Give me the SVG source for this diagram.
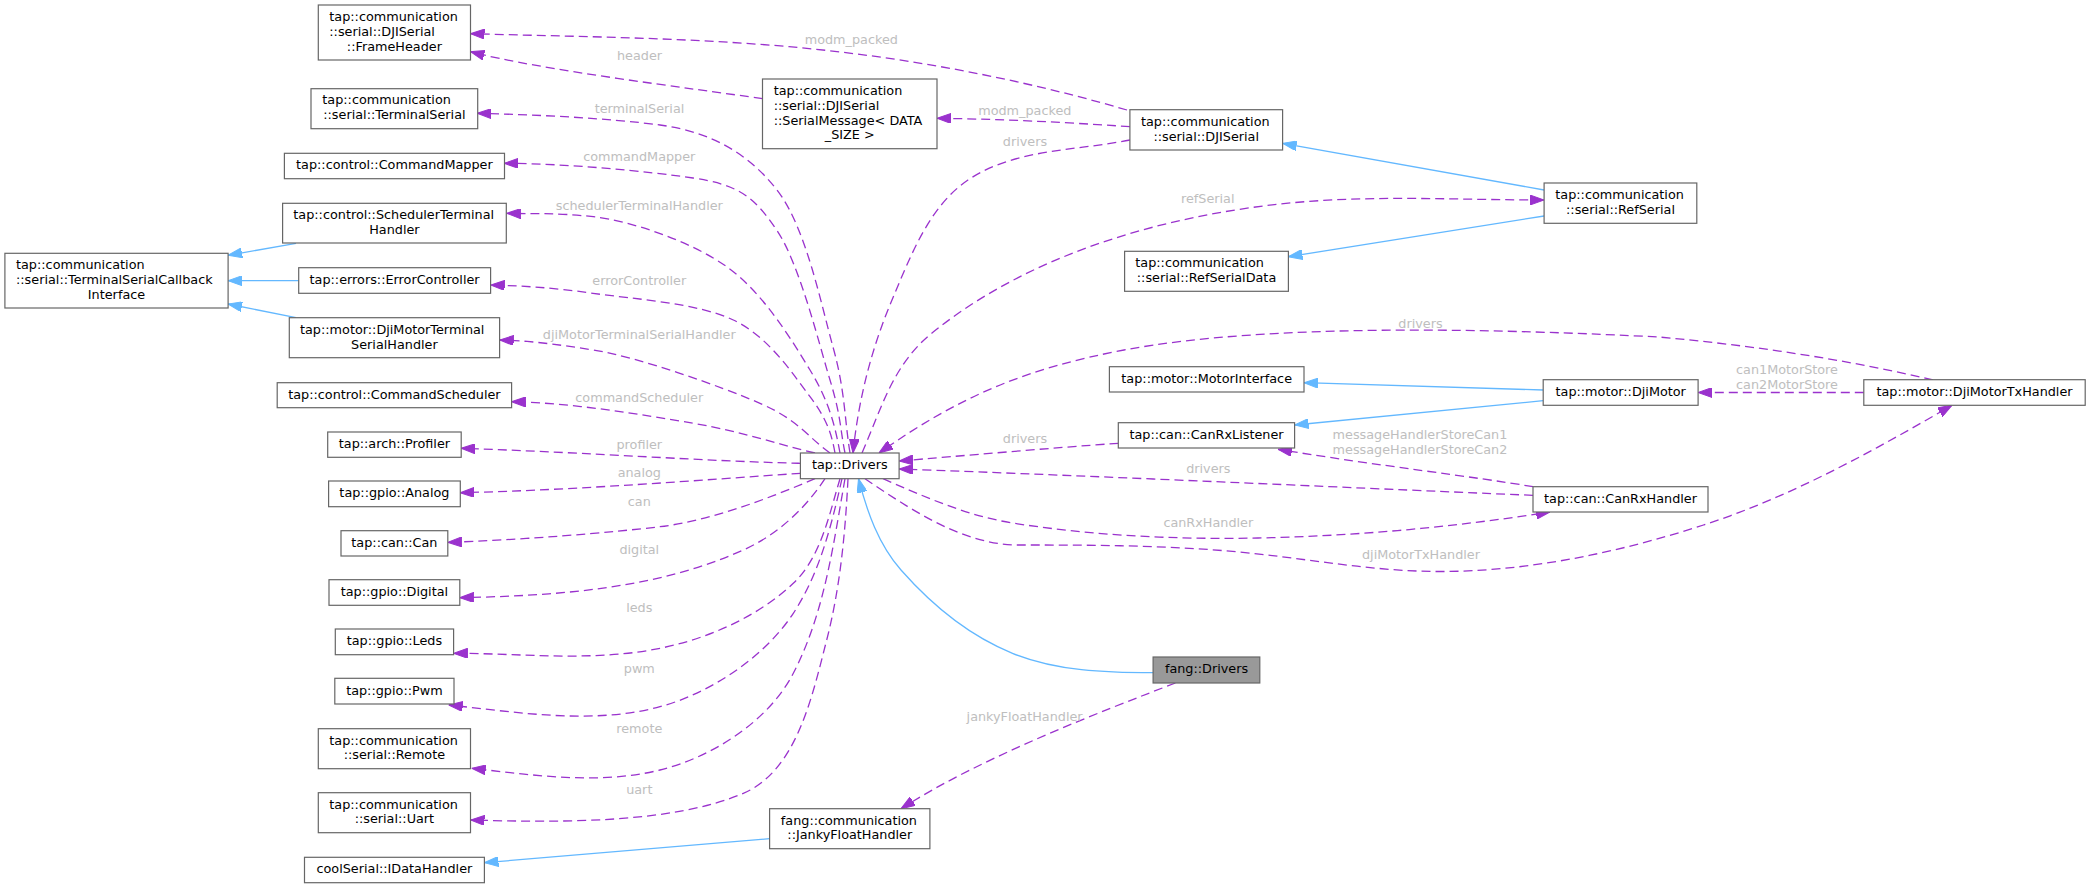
<svg xmlns="http://www.w3.org/2000/svg" width="2091" height="888" viewBox="0 0 2091 888">
<defs>
<style>
.nd rect{fill:#ffffff;stroke:#666666;stroke-width:1.2}
.nd text{font-family:"DejaVu Sans","Liberation Sans",sans-serif;font-size:12.8px;fill:#000000}
.nd .c{text-anchor:middle}
.e{fill:none;stroke:#9a32cd;stroke-width:1.3;stroke-dasharray:9,5;marker-end:url(#ap)}
.i{fill:none;stroke:#63b8ff;stroke-width:1.3;marker-end:url(#ab)}
.l{font-family:"DejaVu Sans","Liberation Sans",sans-serif;font-size:12.8px;fill:#bebebe;text-anchor:middle}
</style>
<marker id="ap" viewBox="0 0 14 10" refX="14" refY="5" markerWidth="14" markerHeight="10" markerUnits="userSpaceOnUse" orient="auto"><path d="M0,0 L14,5 L0,10 z" fill="#9a32cd" stroke="#9a32cd" stroke-width="1"/></marker>
<marker id="ab" viewBox="0 0 14 10" refX="14" refY="5" markerWidth="14" markerHeight="10" markerUnits="userSpaceOnUse" orient="auto"><path d="M0,0 L14,5 L0,10 z" fill="#63b8ff" stroke="#63b8ff" stroke-width="1"/></marker>
</defs>
<rect x="0" y="0" width="2091" height="888" fill="#ffffff"/>
<g id="connectors">
<path class="e" d="M1127,110 C1017.6,78 902.5,56.7 789,46.7 C683.4,37.4 577,36.7 470.5,33.7"/>
<path class="e" d="M762.5,98.7 C690,88 540,70 470.5,51.7"/>
<path class="e" d="M1130,126.7 C1060,122 1000,119 937,118.3"/>
<path class="e" d="M1130,140 C1075,151 1014.5,148.6 968,180 C929,206.3 910.3,256.8 892,300 C871.3,348.8 858.3,400.3 853,453"/>
<path class="e" d="M1933,380 C1844,359 1750.6,345.3 1659,337 C1509,329.5 1274,322 1124,350 C1026,368.5 960,396 879,453"/>
<path class="e" d="M862,453 C882,407 893,364.5 932,333 C1028,255.5 1158,217.3 1280,204 C1367.5,194.5 1456,200 1544,200"/>
<path class="e" d="M850,453 C844.3,417.7 845.2,390.8 833,347 C820.8,303.2 805.8,227 777,190 C748.2,153 710,131.7 660,125 C610,118.3 538,114.7 477.3,113.3"/>
<path class="e" d="M845,453 C840,428.7 841.3,417.2 830,380 C818.7,342.8 799.5,263.7 776.7,230 C753.9,196.3 738.3,184.7 693,178 C647.7,171.3 567.3,163.5 504.3,163.3"/>
<path class="e" d="M840,453 C835,425.3 828.9,401.1 810,370 C791.1,338.9 762.8,292.3 726.7,266.7 C690.6,241.1 630,220.7 593.3,216.7 C556.6,212.7 535.7,214 506.7,213.3"/>
<path class="e" d="M835,453 C831.7,434.3 826.9,418.9 810,396.7 C793.1,374.5 769.5,337.2 733.3,320 C697.1,302.8 633.6,299.1 593,293.3 C552.4,287.5 524.3,286 490.6,285"/>
<path class="e" d="M830,453 C806.7,436.4 799.4,420.5 760,403.3 C720.6,386.1 636.7,356.7 593.3,350 C550,343.3 530.6,341 499.6,340"/>
<path class="e" d="M815,453 C775,443.7 743.9,431.9 693.3,423.3 C642.7,414.7 571.7,402.7 511.6,401.7"/>
<path class="e" d="M800.4,463.3 C700,461 600,453 461.2,448.3"/>
<path class="e" d="M800.4,473.3 C700,480 580,490 460.3,492.7"/>
<path class="e" d="M815,478.7 C764.4,500.2 709.3,520.8 660,526.7 C610.7,532.6 517.8,540.3 447.8,542.3"/>
<path class="e" d="M825,478.7 C804.7,509.4 777,534.8 743.3,550 C655.9,589.4 555.8,595.7 459.8,597.7"/>
<path class="e" d="M840,478.7 C829,515.2 821,557.1 793.3,583.3 C757.5,617.1 708,638.5 660,648.3 C592.4,662.1 522.6,653.3 453.6,653.3"/>
<path class="e" d="M842,478.7 C831.4,525.7 819.7,573 793.3,613.3 C764.7,657 710.2,693.2 660,706.7 C592.4,724.9 518.4,712.4 448.7,705"/>
<path class="e" d="M845,478.7 C833.1,545.7 824.6,612.8 793.3,673.3 C768.5,721.3 712.4,757 660,770 C598.9,785.1 534.3,775.2 471.7,768.3"/>
<path class="e" d="M848,478.7 C845.3,532.7 840.2,587.6 826.7,640 C812.2,696.3 796.7,770.7 743.3,793.3 C673.3,823.3 562.7,822.7 470.5,820"/>
<path class="e" d="M1118.3,443.3 C1050,448 960,456 899.1,461"/>
<path class="e" d="M1533,495.3 C1400,490 1100,476 899.1,469"/>
<path class="e" d="M1533,486.7 C1470,476 1380,466 1278,449.3"/>
<path class="e" d="M883,478.7 C925.3,497.1 967.1,515.8 1012.5,523 C1093.5,535.8 1176,539.6 1258,538 C1356,536 1453.2,527.2 1550,512"/>
<path class="e" d="M865,478.7 C909.8,508.9 958.8,542 1012.5,545 C1086.5,545 1162,545 1235.7,551.7 C1304.4,557.9 1371,571.5 1440,571.5 C1529,571.5 1618.9,552.4 1703.5,525 C1791,496.7 1872.4,451.3 1952,405.3"/>
<path class="e" d="M1863.8,392.5 L1698.1,392.5"/>
<path class="e" d="M1175.4,683 C1100,712 980,758 901,808.7"/>
<path class="i" d="M296,243.3 L228.1,255.3"/>
<path class="i" d="M298.7,280.7 L228.1,280.7"/>
<path class="i" d="M296,317.7 L228.1,304"/>
<path class="i" d="M1544.1,190 L1282.6,143.3"/>
<path class="i" d="M1544.1,216 L1288.4,256.7"/>
<path class="i" d="M1543.2,390 L1304,382.7"/>
<path class="i" d="M1543.2,400.7 L1294.6,425"/>
<path class="i" d="M1153.1,672.7 C1106,672.7 1056,671 1012.5,653.3 C969.9,636 931.4,604.5 901,570 C878.6,544.5 867,511.7 858.5,478.7"/>
<path class="i" d="M769.6,838.7 L484.4,862.7"/>
<text class="l" x="851.3" y="44.3">modm_packed</text>
<text class="l" x="639.5" y="60.3">header</text>
<text class="l" x="1024.8" y="114.6">modm_packed</text>
<text class="l" x="1025" y="146">drivers</text>
<text class="l" x="639.5" y="112.6">terminalSerial</text>
<text class="l" x="639.3" y="161">commandMapper</text>
<text class="l" x="639.3" y="210">schedulerTerminalHandler</text>
<text class="l" x="639.3" y="284.6">errorController</text>
<text class="l" x="639.3" y="339">djiMotorTerminalSerialHandler</text>
<text class="l" x="639.3" y="402">commandScheduler</text>
<text class="l" x="639.3" y="448.6">profiler</text>
<text class="l" x="639.3" y="477">analog</text>
<text class="l" x="639.3" y="506.3">can</text>
<text class="l" x="639.3" y="553.6">digital</text>
<text class="l" x="639.3" y="612.3">leds</text>
<text class="l" x="639.3" y="673.3">pwm</text>
<text class="l" x="639.3" y="733">remote</text>
<text class="l" x="639.3" y="794">uart</text>
<text class="l" x="1207.7" y="203">refSerial</text>
<text class="l" x="1420.5" y="328.3">drivers</text>
<text class="l" x="1787" y="374">can1MotorStore</text>
<text class="l" x="1787" y="389">can2MotorStore</text>
<text class="l" x="1025" y="443">drivers</text>
<text class="l" x="1420" y="439">messageHandlerStoreCan1</text>
<text class="l" x="1420" y="454">messageHandlerStoreCan2</text>
<text class="l" x="1208.3" y="472.6">drivers</text>
<text class="l" x="1208.3" y="527">canRxHandler</text>
<text class="l" x="1421" y="559.3">djiMotorTxHandler</text>
<text class="l" x="1024.6" y="720.6">jankyFloatHandler</text>
</g>
<g id="node-frameheader" class="nd"><rect x="318.3" y="5" width="152.2" height="55"/><text x="329.3" y="21">tap::communication</text><text x="329.3" y="36">::serial::DJISerial</text><text class="c" x="394.4" y="51">::FrameHeader</text></g>
<g id="node-terminalserial" class="nd"><rect x="311" y="88.7" width="166.7" height="40"/><text x="322.3" y="104.3">tap::communication</text><text class="c" x="394.4" y="118.6">::serial::TerminalSerial</text></g>
<g id="node-commandmapper" class="nd"><rect x="284.4" y="153.3" width="220.1" height="25.4"/><text class="c" x="394.4" y="169">tap::control::CommandMapper</text></g>
<g id="node-schedulerterminalhandler" class="nd"><rect x="282.6" y="203.3" width="223.7" height="39.7"/><text x="293.3" y="218.6">tap::control::SchedulerTerminal</text><text class="c" x="394.4" y="233.6">Handler</text></g>
<g id="node-callbackinterface" class="nd"><rect x="4.9" y="253.3" width="223.2" height="54.7"/><text x="16" y="269.3">tap::communication</text><text x="16" y="283.6">::serial::TerminalSerialCallback</text><text class="c" x="116.5" y="298.6">Interface</text></g>
<g id="node-errorcontroller" class="nd"><rect x="298.7" y="267.7" width="191.9" height="25.6"/><text class="c" x="394.6" y="283.6">tap::errors::ErrorController</text></g>
<g id="node-djimotorterminal" class="nd"><rect x="289.3" y="317.7" width="210.3" height="40"/><text x="300" y="333.6">tap::motor::DjiMotorTerminal</text><text class="c" x="394.4" y="348.6">SerialHandler</text></g>
<g id="node-commandscheduler" class="nd"><rect x="277.2" y="382.7" width="234.4" height="25"/><text class="c" x="394.4" y="398.6">tap::control::CommandScheduler</text></g>
<g id="node-profiler" class="nd"><rect x="327.7" y="432" width="133.5" height="25.3"/><text class="c" x="394.4" y="447.6">tap::arch::Profiler</text></g>
<g id="node-analog" class="nd"><rect x="328.6" y="481" width="131.7" height="25.7"/><text class="c" x="394.4" y="497">tap::gpio::Analog</text></g>
<g id="node-can" class="nd"><rect x="341" y="530.7" width="106.8" height="25.3"/><text class="c" x="394.4" y="546.6">tap::can::Can</text></g>
<g id="node-digital" class="nd"><rect x="329" y="579.7" width="130.8" height="25.6"/><text class="c" x="394.4" y="596">tap::gpio::Digital</text></g>
<g id="node-leds" class="nd"><rect x="335.3" y="629" width="118.3" height="25.7"/><text class="c" x="394.4" y="645">tap::gpio::Leds</text></g>
<g id="node-pwm" class="nd"><rect x="334.8" y="678.3" width="119.2" height="25.7"/><text class="c" x="394.4" y="694.6">tap::gpio::Pwm</text></g>
<g id="node-remote" class="nd"><rect x="318.3" y="728.7" width="152.2" height="40"/><text x="329.3" y="744.6">tap::communication</text><text class="c" x="394.4" y="759">::serial::Remote</text></g>
<g id="node-uart" class="nd"><rect x="318.3" y="792.7" width="152.2" height="40"/><text x="329.3" y="808.6">tap::communication</text><text class="c" x="394.4" y="823">::serial::Uart</text></g>
<g id="node-idatahandler" class="nd"><rect x="304.5" y="857.3" width="179.9" height="25.4"/><text class="c" x="394.4" y="873">coolSerial::IDataHandler</text></g>
<g id="node-serialmessage" class="nd"><rect x="762.5" y="79" width="174.5" height="69.7"/><text x="773.7" y="95">tap::communication</text><text x="773.7" y="109.6">::serial::DJISerial</text><text x="773.7" y="124.6">::SerialMessage&lt; DATA</text><text class="c" x="849.8" y="139.3">_SIZE &gt;</text></g>
<g id="node-djiserial" class="nd"><rect x="1129.9" y="109.7" width="152.7" height="40.3"/><text x="1141" y="126">tap::communication</text><text class="c" x="1206.2" y="140.6">::serial::DJISerial</text></g>
<g id="node-refserialdata" class="nd"><rect x="1124.6" y="251.3" width="163.8" height="40"/><text x="1135.3" y="267.3">tap::communication</text><text class="c" x="1206.5" y="282">::serial::RefSerialData</text></g>
<g id="node-motorinterface" class="nd"><rect x="1109.4" y="366.7" width="194.6" height="25.3"/><text class="c" x="1206.7" y="382.6">tap::motor::MotorInterface</text></g>
<g id="node-canrxlistener" class="nd"><rect x="1118.3" y="422.7" width="176.3" height="25.3"/><text class="c" x="1206.5" y="438.6">tap::can::CanRxListener</text></g>
<g id="node-tapdrivers" class="nd"><rect x="800.4" y="453" width="98.7" height="25.7"/><text class="c" x="849.8" y="469">tap::Drivers</text></g>
<g id="node-fangdrivers" class="nd"><rect x="1153.1" y="657" width="106.7" height="26" style="fill:#999999"/><text class="c" x="1206.5" y="673">fang::Drivers</text></g>
<g id="node-jankyfloathandler" class="nd"><rect x="769.6" y="808.7" width="160.3" height="40"/><text x="780.8" y="824.6">fang::communication</text><text class="c" x="849.8" y="839">::JankyFloatHandler</text></g>
<g id="node-refserial" class="nd"><rect x="1544.1" y="183" width="152.7" height="40.3"/><text x="1555.3" y="199">tap::communication</text><text class="c" x="1620.5" y="214">::serial::RefSerial</text></g>
<g id="node-djimotor" class="nd"><rect x="1543.2" y="379.7" width="154.9" height="25.6"/><text class="c" x="1620.7" y="396">tap::motor::DjiMotor</text></g>
<g id="node-djimotortxhandler" class="nd"><rect x="1863.8" y="379.7" width="221.4" height="25.6"/><text class="c" x="1974.5" y="396">tap::motor::DjiMotorTxHandler</text></g>
<g id="node-canrxhandler" class="nd"><rect x="1533" y="486.7" width="175" height="25.3"/><text class="c" x="1620.5" y="502.6">tap::can::CanRxHandler</text></g>
</svg>
